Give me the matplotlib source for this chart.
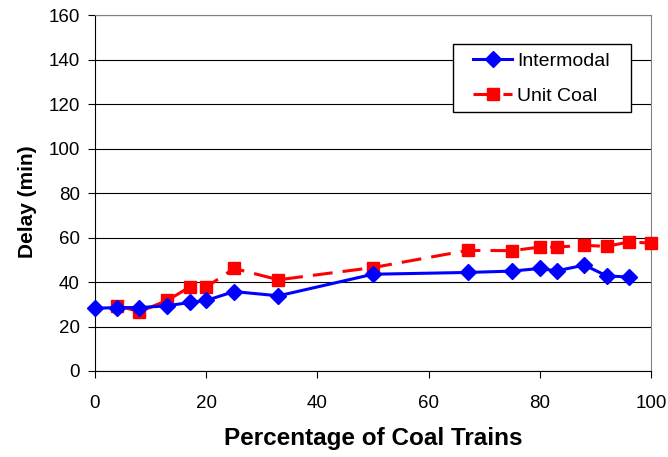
import matplotlib
matplotlib.use("Agg")
import matplotlib.pyplot as plt
from matplotlib.patches import Rectangle

plt.rcParams['font.family'] = ['Liberation Sans', 'DejaVu Sans']

x_inter = [0, 4, 8, 13, 17, 20, 25, 33, 50, 67, 75, 80, 83, 88, 92, 96]
y_inter = [28.2, 28.5, 28.5, 29.3, 30.8, 31.7, 35.7, 33.8, 43.5, 44.3, 44.9, 46.1, 45.0, 47.6, 42.8, 42.2]
x_coal = [4, 8, 13, 17, 20, 25, 33, 50, 67, 75, 80, 83, 88, 92, 96, 100]
y_coal = [29.3, 26.7, 31.7, 37.7, 37.7, 46.1, 41.0, 46.5, 54.2, 54.1, 55.7, 55.7, 56.5, 56.0, 58.0, 57.5]

fig = plt.figure(figsize=(6.68, 4.57), dpi=100)
ax = fig.add_axes([0.1422, 0.1882, 0.8324, 0.7788])

ax.plot(x_inter, y_inter, color='#0000FF', lw=2.2, marker='D', ms=8, label='Intermodal',
        zorder=4, clip_on=False)
ax.plot(x_coal, y_coal, color='#FF0000', lw=2.2, marker='s', ms=8, dashes=(6.5, 3.3),
        label='Unit Coal', zorder=3, clip_on=False)

ax.set_xlim(0, 100)
ax.set_ylim(0, 160)
ax.set_xticks(range(0, 101, 20))
ax.set_yticks(range(0, 161, 20))
ax.grid(axis='y', color='black', lw=0.8)
ax.set_axisbelow(True)
for s in ['top', 'right']:
    ax.spines[s].set_color('#808080')
for s in ['left', 'bottom']:
    ax.spines[s].set_color('black')
ax.tick_params(direction='out', length=5, labelsize=13.5, colors='black')
ax.tick_params(axis='x', pad=12)
ax.tick_params(axis='y', pad=6)
ax.set_xlabel('Percentage of Coal Trains', fontsize=17.5, fontweight='bold', labelpad=11)
ax.set_ylabel('Delay (min)', fontsize=15, fontweight='bold')
ax.yaxis.set_label_coords(-0.104, 0.475)

# legend frame
ax.add_patch(Rectangle((0.644, 0.7275), 0.964 - 0.644, 0.9185 - 0.7275, transform=ax.transAxes,
                       facecolor='white', edgecolor='black', lw=1, zorder=5))
leg = ax.legend(loc='center left', bbox_to_anchor=(0.680, 0.821), borderaxespad=0,
                borderpad=0, fontsize=14, frameon=False, handlelength=2.0,
                handletextpad=0.26, labelspacing=0.9)
leg.set_zorder(6)

fig.savefig('out.png', dpi=100)
